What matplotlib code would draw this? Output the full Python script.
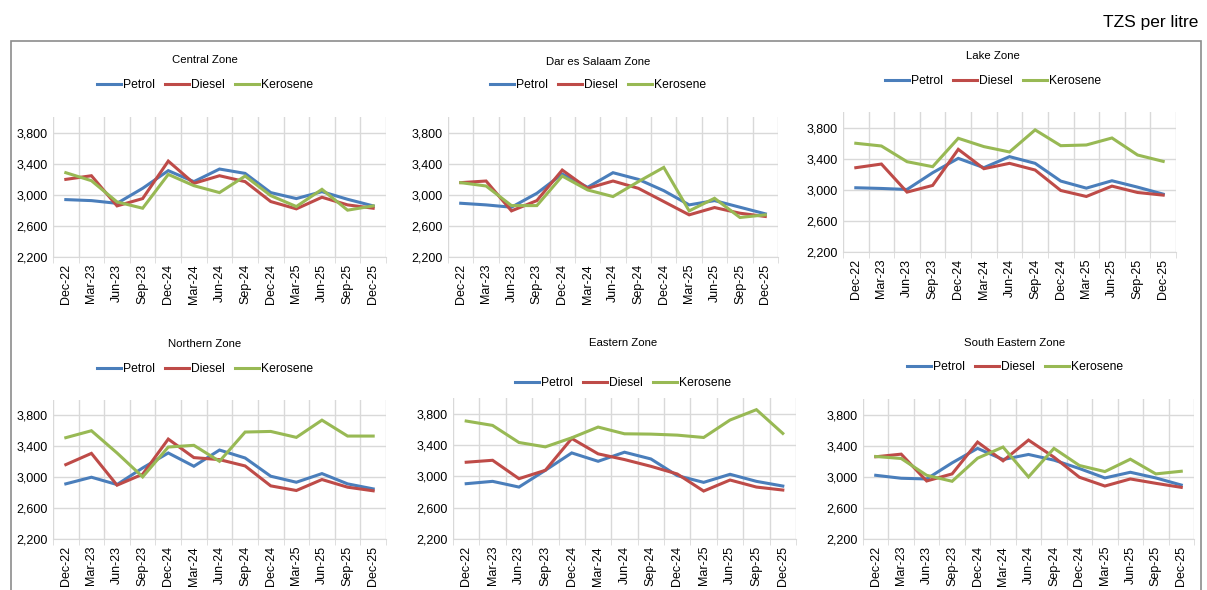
import matplotlib
matplotlib.use("Agg")
import matplotlib.pyplot as plt
from matplotlib.patches import Rectangle
from matplotlib.ticker import FuncFormatter, FixedLocator

plt.rcParams["font.family"] = ["Liberation Sans", "DejaVu Sans"]

months = ["Dec-22", "Mar-23", "Jun-23", "Sep-23", "Dec-24", "Mar-24", "Jun-24",
          "Sep-24", "Dec-24", "Mar-25", "Jun-25", "Sep-25", "Dec-25"]

central_petrol = [2938, 2925, 2890, 3083, 3310, 3169, 3331, 3275, 3028, 2951, 3040, 2942, 2857]
central_diesel = [3198, 3245, 2857, 2951, 3433, 3147, 3245, 3169, 2913, 2819, 2968, 2870, 2827]
central_kerosene = [3284, 3181, 2908, 2827, 3262, 3117, 3028, 3241, 2989, 2849, 3070, 2802, 2857]

dar_petrol = [2891, 2870, 2840, 3019, 3267, 3096, 3284, 3198, 3053, 2870, 2925, 2840, 2755]
dar_diesel = [3156, 3177, 2793, 2925, 3318, 3083, 3177, 3083, 2913, 2742, 2836, 2763, 2721]
dar_kerosene = [3156, 3113, 2861, 2861, 3241, 3062, 2977, 3169, 3352, 2793, 2955, 2708, 2742]

lake_petrol = [3026, 3017, 3004, 3219, 3404, 3284, 3426, 3340, 3112, 3021, 3116, 3034, 2944]
lake_diesel = [3284, 3331, 2970, 3056, 3520, 3271, 3340, 3254, 2991, 2914, 3047, 2965, 2931]
lake_kerosene = [3598, 3563, 3361, 3297, 3662, 3555, 3486, 3770, 3567, 3576, 3666, 3447, 3365]

northern_petrol = [2914, 3000, 2905, 3120, 3314, 3142, 3352, 3249, 3013, 2935, 3047, 2914, 2849]
northern_diesel = [3163, 3309, 2897, 3039, 3494, 3254, 3228, 3146, 2888, 2828, 2970, 2871, 2824]
northern_kerosene = [3512, 3602, 3314, 3004, 3391, 3413, 3206, 3585, 3593, 3516, 3739, 3533, 3533]

eastern_petrol = [2906, 2936, 2863, 3077, 3299, 3192, 3308, 3222, 3009, 2923, 3026, 2936, 2876]
eastern_diesel = [3180, 3205, 2970, 3077, 3483, 3287, 3214, 3128, 3030, 2812, 2953, 2863, 2825]
eastern_kerosene = [3706, 3650, 3432, 3376, 3492, 3629, 3543, 3539, 3526, 3496, 3719, 3851, 3548]

se_petrol = [3019, 2981, 2972, 3179, 3365, 3222, 3287, 3214, 3106, 2985, 3058, 2985, 2894]
se_diesel = [3257, 3291, 2946, 3037, 3446, 3205, 3472, 3252, 2994, 2881, 2972, 2916, 2864]
se_kerosene = [3261, 3235, 3019, 2942, 3239, 3382, 2998, 3365, 3145, 3067, 3226, 3037, 3071]

zones = [
    ("Central Zone", central_petrol, central_diesel, central_kerosene),
    ("Dar es Salaam Zone", dar_petrol, dar_diesel, dar_kerosene),
    ("Lake Zone", lake_petrol, lake_diesel, lake_kerosene),
    ("Northern Zone", northern_petrol, northern_diesel, northern_kerosene),
    ("Eastern Zone", eastern_petrol, eastern_diesel, eastern_kerosene),
    ("South Eastern Zone", se_petrol, se_diesel, se_kerosene),
]

W, H = 1207, 590
# plot boxes in pixels: left, right, top, bottom
boxes = [(53, 386, 117, 257), (448, 778, 117, 257), (843, 1176, 112, 252),
         (53, 386, 400, 539), (453, 796, 398, 539), (863, 1194, 399, 539)]
# title y, legend y, centre x
heads = [(60, 85, 205), (62, 85, 598), (56, 81, 993),
         (344, 369, 205), (343, 383, 623), (343, 367, 1015)]

colors = {"Petrol": "#4A7EBB", "Diesel": "#BE4B48", "Kerosene": "#98B954"}

fig = plt.figure(figsize=(W / 100, H / 100), dpi=100)
fig.patches.append(Rectangle((11 / W, -0.1), (1201 - 11) / W, (H - 41) / H + 0.1,
                             transform=fig.transFigure, fill=False,
                             edgecolor="#8C8C8C", linewidth=1.2))
fig.text(1198 / W, 1 - 22 / H, "TZS per litre", ha="right", va="center", fontsize=12.5)

x = list(range(len(months)))
for (name, petrol, diesel, kerosene), (l, r, t, b), (ty, ly, cx) in zip(zones, boxes, heads):
    ax = fig.add_axes([l / W, 1 - b / H, (r - l) / W, (b - t) / H])
    lines = []
    for label, vals in (("Petrol", petrol), ("Diesel", diesel), ("Kerosene", kerosene)):
        ln, = ax.plot(x, vals, color=colors[label], linewidth=2.2, label=label,
                      solid_joinstyle="miter")
        lines.append(ln)
    ax.set_xlim(-0.5, len(months) - 0.5)
    ax.set_ylim(2200, 4000)
    ax.set_yticks([2200, 2600, 3000, 3400, 3800])
    ax.yaxis.set_major_formatter(FuncFormatter(lambda v, p: f"{int(v):,}"))
    ax.set_xticks(x)
    ax.set_xticklabels(months, rotation=90, fontsize=9)
    ax.xaxis.set_minor_locator(FixedLocator([i - 0.5 for i in range(len(months) + 1)]))
    ax.tick_params(axis="x", which="major", length=0, pad=5)
    ax.tick_params(axis="x", which="minor", length=4, color="#D9D9D9")
    ax.tick_params(axis="y", length=0, labelsize=9, pad=4)
    ax.grid(axis="y", which="major", color="#D9D9D9", linewidth=1)
    ax.grid(axis="x", which="minor", color="#D9D9D9", linewidth=1)
    ax.set_axisbelow(True)
    for s in ("top", "right", "left"):
        ax.spines[s].set_visible(False)
    ax.spines["bottom"].set_color("#D9D9D9")
    fig.text(cx / W, 1 - ty / H, name, ha="center", va="center", fontsize=8.2)
    fig.legend(handles=lines, loc="center", bbox_to_anchor=(cx / W, 1 - ly / H),
               ncol=3, frameon=False, fontsize=8.7, handlelength=2.0,
               handletextpad=0.1, columnspacing=0.9, borderaxespad=0)

fig.savefig("out.png", dpi=100)
